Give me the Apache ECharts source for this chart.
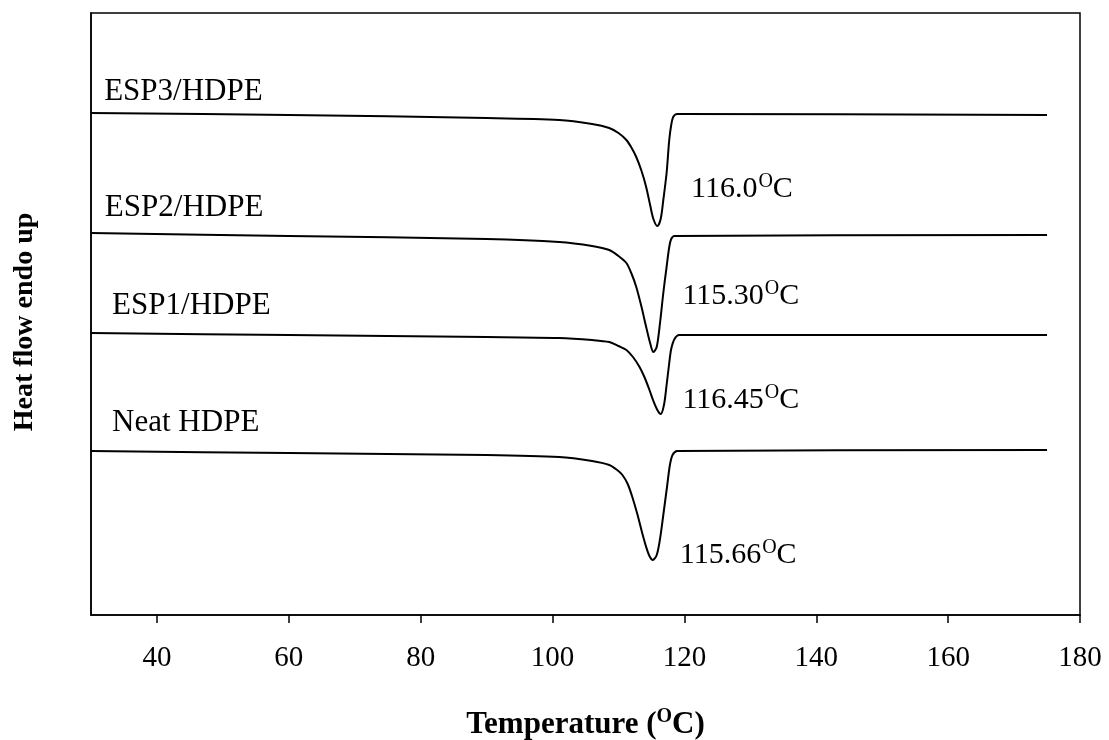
<!DOCTYPE html>
<html>
<head>
<meta charset="utf-8">
<script src="https://cdn.jsdelivr.net/npm/echarts@6/dist/echarts.min.js"></script>
<style>html,body{margin:0;padding:0;background:#fff;}#c{width:1109px;height:740px;}</style>
</head>
<body>
<div id="c"></div>
<script>
// Temperature (°C) / heat flow (arbitrary units, endo up)
const esp3T = [30, 60, 90, 101, 106, 108.6, 110, 111.2, 112, 112.7, 113.5, 114.2, 114.8, 115.3, 115.9, 116.4, 116.8, 117.3, 117.7, 118.0, 118.3, 118.9, 175];
const esp3Y = [502, 500, 497, 495, 491, 487, 482, 475, 467, 458, 444, 428, 410, 396, 389, 396, 415, 442, 475, 490, 498, 501, 500];

const esp2T = [30, 60, 90, 101, 106, 108.6, 110, 111.2, 112, 112.7, 113.5, 114.2, 114.8, 115.3, 115.8, 116.3, 116.8, 117.3, 117.7, 118.0, 118.5, 175];
const esp2Y = [382, 379, 376, 373, 369, 365, 359, 352, 341, 328, 308, 288, 272, 263, 268, 292, 322, 348, 368, 376, 379, 380];

const esp1T = [30, 60, 90, 101, 106, 108.6, 110, 111.2, 112.2, 113.2, 114, 114.7, 115.3, 115.9, 116.4, 116.9, 117.3, 117.7, 118.0, 118.5, 119.2, 175];
const esp1Y = [282, 280, 278, 277, 275, 273, 269, 265, 258, 248, 237, 225, 214, 205, 201, 210, 230, 252, 266, 276, 280, 280];

const neatT = [30, 60, 90, 101, 106, 108.6, 109.8, 110.6, 111.4, 112.1, 112.9, 113.6, 114.2, 114.7, 115.2, 115.8, 116.3, 116.8, 117.4, 117.8, 118.2, 118.9, 175];
const neatY = [164, 162, 160, 158, 154, 150, 145, 140, 131, 118, 100, 82, 68, 59, 55, 60, 76, 100, 130, 150, 160, 164, 165];

const seriesNames = ['ESP3/HDPE', 'ESP2/HDPE', 'ESP1/HDPE', 'Neat HDPE'];
const peakTemps = ['116.0', '115.30', '116.45', '115.66'];
const xTicks = [40, 60, 80, 100, 120, 140, 160, 180];

// annotation anchors (data units): curve names and peak labels
const nameAnchorT = [32.0, 32.1, 33.2, 33.2];
const nameAnchorY = [523, 407, 309, 192];
const peakAnchorT = [121.0, 119.7, 119.7, 119.3];
const peakAnchorY = [426, 319, 215, 60];

const zip = (a, b) => a.map((v, i) => [v, b[i]]);
const curves = [zip(esp3T, esp3Y), zip(esp2T, esp2Y), zip(esp1T, esp1Y), zip(neatT, neatY)];

const FONT = '"Liberation Serif", "Times New Roman", serif';

const lineSeries = curves.map((d, i) => ({
  name: seriesNames[i],
  type: 'line',
  data: d,
  smooth: 0.3,
  showSymbol: false,
  lineStyle: { color: '#000', width: 2 },
  silent: true
}));

const nameLabels = {
  type: 'scatter',
  symbolSize: 0,
  silent: true,
  itemStyle: { opacity: 1 },
  data: seriesNames.map((n, i) => ({ value: [nameAnchorT[i], nameAnchorY[i]], name: n })),
  label: {
    show: true, position: [0, 0], align: 'left', verticalAlign: 'middle',
    formatter: p => p.name,
    fontFamily: FONT, fontSize: 31, color: '#000', opacity: 1
  }
};

const supRich = {
  n: { fontFamily: FONT, fontSize: 30, color: '#000', lineHeight: 34 },
  s: { fontFamily: FONT, fontSize: 20, color: '#000', lineHeight: 34, verticalAlign: 'top', padding: [0, 0, 0, 1] }
};

const peakLabels = {
  type: 'scatter',
  symbolSize: 0,
  silent: true,
  itemStyle: { opacity: 1 },
  data: peakTemps.map((t, i) => ({ value: [peakAnchorT[i], peakAnchorY[i]], name: t })),
  label: {
    show: true, position: [0, 0], align: 'left', verticalAlign: 'middle', opacity: 1,
    formatter: p => '{n|' + p.name + '}{s|O}{n|C}',
    rich: supRich
  }
};

const chart = echarts.init(document.getElementById('c'), null, { renderer: 'canvas' });
chart.setOption({
  animation: false,
  backgroundColor: '#fff',
  grid: { left: 91, right: 29, top: 13, bottom: 125, outerBoundsMode: 'none', containLabel: false, show: true, borderColor: '#000', borderWidth: 1.5, backgroundColor: 'transparent' },
  xAxis: {
    type: 'value', min: 30, max: 180,
    axisLine: { show: true, onZero: false, lineStyle: { color: '#000', width: 1.5 } },
    axisTick: { show: true, length: 8, inside: false, customValues: xTicks, lineStyle: { color: '#000', width: 1.5 } },
    axisLabel: { customValues: xTicks, margin: 29, fontFamily: FONT, fontSize: 29, color: '#000' },
    splitLine: { show: false },
    name: '{b|Temperature (}{bs|O}{b|C)}',
    nameLocation: 'middle', nameGap: 92,
    nameTextStyle: {
      rich: {
        b: { fontFamily: FONT, fontWeight: 'bold', fontSize: 31, color: '#000', lineHeight: 36 },
        bs: { fontFamily: FONT, fontWeight: 'bold', fontSize: 20, color: '#000', lineHeight: 36, verticalAlign: 'top' }
      }
    }
  },
  yAxis: {
    type: 'value', min: 0, max: 602,
    axisLine: { show: true, onZero: false, lineStyle: { color: '#000', width: 1.5 } },
    axisTick: { show: false },
    axisLabel: { show: false },
    splitLine: { show: false },
    name: 'Heat flow endo up',
    nameLocation: 'middle', nameGap: 52, nameRotate: 90,
    nameTextStyle: { fontFamily: FONT, fontWeight: 'bold', fontSize: 28, color: '#000', padding: [0, 16, 0, 0] }
  },
  series: [...lineSeries, nameLabels, peakLabels]
});
</script>
</body>
</html>
